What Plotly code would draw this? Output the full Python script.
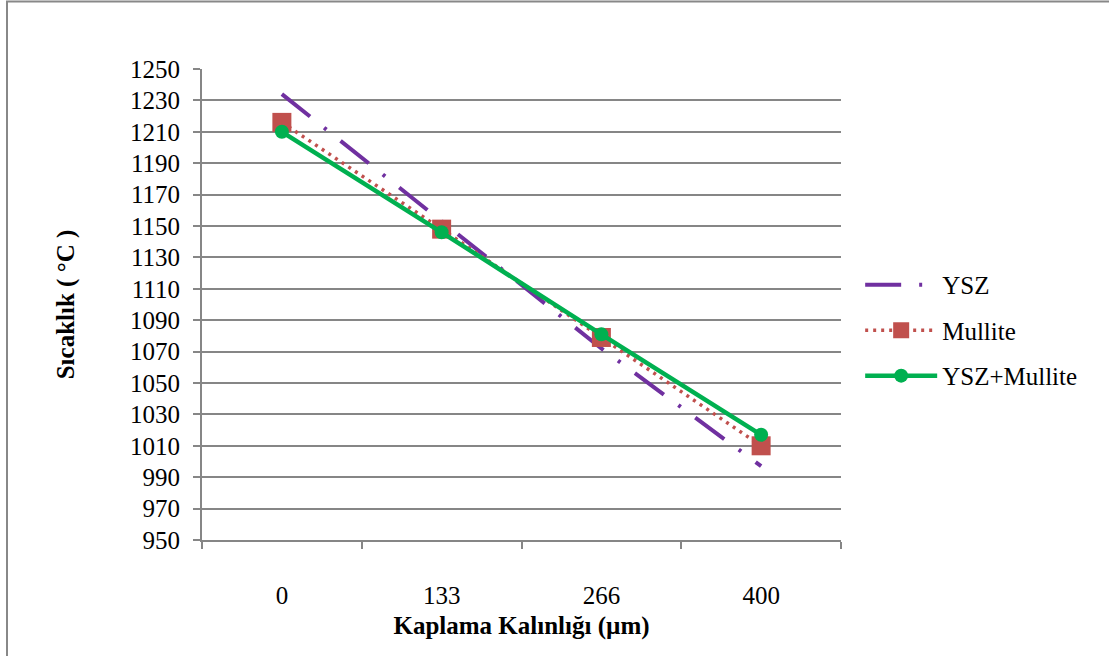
import plotly.graph_objects as go

# Coating thickness categories (µm) and surface temperature (°C) per coating
thickness = ["0", "133", "266", "400"]
ysz = [1234, 1153, 1072, 997]
mullite = [1216, 1148, 1079, 1010]
ysz_mullite = [1210, 1146, 1081, 1017]
y_ticks = list(range(950, 1251, 20))

FONT = "Times New Roman, Liberation Serif, DejaVu Serif, serif"
GRID = "#868686"
FS = 25

fig = go.Figure()
fig.add_trace(go.Scatter(
    x=thickness, y=ysz, name="YSZ", mode="lines", legendgroup="a",
    line=dict(color="#7030A0", width=4, dash="36px,18px,3px,18px"),
))
fig.add_trace(go.Scatter(
    x=thickness, y=mullite, name="Mullite", mode="lines+markers", legendgroup="b",
    line=dict(color="#C0504D", width=3.5, dash="3px,5px"),
    marker=dict(symbol="square", size=19, color="#C0504D"),
))
fig.add_trace(go.Scatter(
    x=thickness, y=ysz_mullite, name="YSZ+Mullite", mode="lines+markers", legendgroup="c",
    line=dict(color="#00B050", width=4.5),
    marker=dict(symbol="circle", size=14, color="#00B050"),
))

fig.update_layout(
    width=1109, height=656,
    margin=dict(l=202, r=268, t=69, b=116),
    paper_bgcolor="white", plot_bgcolor="white",
    font=dict(family=FONT, size=FS, color="black"),
    showlegend=True,
    legend=dict(
        x=1.03, y=0.445, xanchor="left", yanchor="middle",
        font=dict(family=FONT, size=FS, color="black"),
        itemwidth=72, tracegroupgap=10,
        bgcolor="rgba(0,0,0,0)",
    ),
    xaxis=dict(
        type="category", range=[-0.5, 3.5],
        tickson="boundaries", ticks="outside", ticklen=7, tickwidth=2,
        tickcolor=GRID, showline=True, linecolor=GRID, linewidth=2,
        showgrid=False, zeroline=False,
        ticklabelstandoff=32,
        tickfont=dict(family=FONT, size=FS),
        title=dict(text="<b>Kaplama Kalınlığı (µm)</b>",
                   font=dict(family=FONT, size=FS), standoff=8),
    ),
    yaxis=dict(
        range=[950, 1250], tickvals=y_ticks,
        ticks="outside", ticklen=7, tickwidth=2, tickcolor=GRID,
        showline=True, linecolor=GRID, linewidth=2,
        showgrid=True, gridcolor=GRID, gridwidth=2, zeroline=False,
        ticklabelstandoff=8,
        tickfont=dict(family=FONT, size=FS),
        title=dict(text="<b>Sıcaklık ( °C )</b>",
                   font=dict(family=FONT, size=FS), standoff=48),
    ),
    shapes=[dict(
        type="rect", xref="paper", yref="paper",
        x0=(7 - 202) / 639, x1=(1125 - 202) / 639,
        y0=(540 - 680) / 471, y1=(540 - 1.5) / 471,
        line=dict(color="#888888", width=2), layer="below",
    )],
)

fig.write_html("out.html")
